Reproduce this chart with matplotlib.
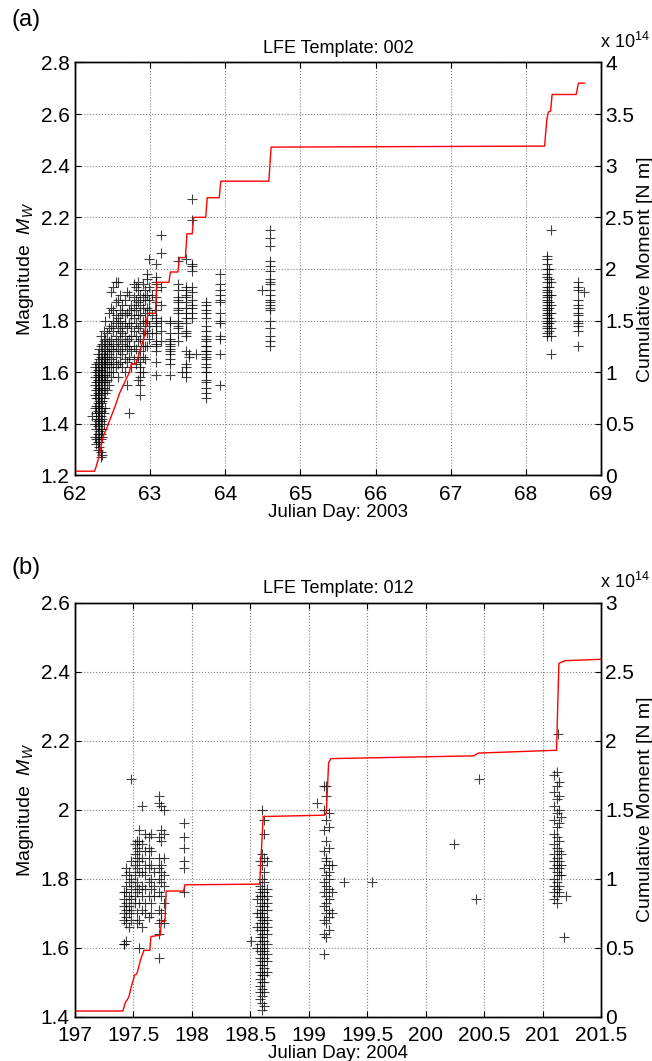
"""
LFE magnitudes and cumulative moment for templates 002 and 012.
"""

import matplotlib
matplotlib.use('Agg')
import matplotlib.pyplot as plt
from matplotlib.ticker import MultipleLocator, FuncFormatter

plt.rcParams['font.family'] = ['Liberation Sans', 'DejaVu Sans']
plt.rcParams['mathtext.fontset'] = 'custom'
plt.rcParams['mathtext.rm'] = 'Liberation Sans'
plt.rcParams['mathtext.it'] = 'Liberation Sans:italic'

# ---- (a) template 002, 2003 ----
# detections grouped in columns of (roughly) equal Julian day
a_col_days = [62.22, 62.26, 62.28, 62.30, 62.32, 62.34, 62.36, 62.38, 62.40, 62.42,
              62.45, 62.48, 62.51, 62.54, 62.57, 62.60, 62.63, 62.66, 62.69, 62.72,
              62.75, 62.78, 62.81, 62.84, 62.87, 62.90, 62.93, 62.96, 62.98, 63.03,
              63.08, 63.14, 63.26, 63.37, 63.43, 63.48, 63.52, 63.56, 63.61, 63.75,
              63.93, 64.49, 64.60, 68.28, 68.31, 68.34, 68.69, 68.78]
a_col_mags = [
    [1.43],
    [1.35, 1.40, 1.46, 1.51, 1.55, 1.58, 1.62],
    [1.32, 1.34, 1.38, 1.42, 1.44, 1.47, 1.50, 1.53, 1.56, 1.60, 1.63],
    [1.30, 1.33, 1.36, 1.39, 1.41, 1.43, 1.45, 1.48, 1.50, 1.52, 1.54, 1.57, 1.59, 1.61, 1.64, 1.67],
    [1.31, 1.33, 1.35, 1.37, 1.40, 1.42, 1.44, 1.46, 1.47, 1.49, 1.51, 1.53, 1.55, 1.56, 1.58, 1.60,
     1.62, 1.65, 1.69],
    [1.27, 1.29, 1.34, 1.36, 1.38, 1.41, 1.43, 1.45, 1.48, 1.50, 1.52, 1.54, 1.57, 1.59, 1.61, 1.63,
     1.66, 1.70, 1.74],
    [1.28, 1.35, 1.38, 1.42, 1.46, 1.49, 1.53, 1.56, 1.58, 1.60, 1.62, 1.64, 1.67, 1.71],
    [1.40, 1.44, 1.50, 1.54, 1.57, 1.60, 1.63, 1.65, 1.68, 1.72, 1.76],
    [1.46, 1.52, 1.56, 1.59, 1.62, 1.64, 1.66, 1.69, 1.73, 1.80],
    [1.53, 1.57, 1.60, 1.63, 1.66, 1.68, 1.71, 1.75],
    [1.55, 1.60, 1.63, 1.67, 1.70, 1.72, 1.77, 1.83],
    [1.58, 1.62, 1.65, 1.69, 1.73, 1.78, 1.85, 1.91],
    [1.60, 1.64, 1.68, 1.71, 1.76, 1.80, 1.84, 1.93],
    [1.62, 1.66, 1.70, 1.74, 1.79, 1.82, 1.87, 1.95],
    [1.58, 1.63, 1.69, 1.72, 1.77, 1.81, 1.88, 1.95],
    [1.64, 1.68, 1.73, 1.76, 1.80, 1.84, 1.90],
    [1.62, 1.67, 1.71, 1.75, 1.78, 1.83, 1.86],
    [1.60, 1.65, 1.70, 1.74, 1.79, 1.82, 1.88],
    [1.55, 1.64, 1.69, 1.72, 1.77, 1.83, 1.91],
    [1.44, 1.66, 1.70, 1.73, 1.79, 1.84, 1.90],
    [1.62, 1.68, 1.74, 1.78, 1.82, 1.86],
    [1.65, 1.70, 1.76, 1.81, 1.85, 1.89, 1.94],
    [1.63, 1.69, 1.74, 1.79, 1.84, 1.88, 1.93],
    [1.57, 1.66, 1.72, 1.77, 1.82, 1.87, 1.92, 1.95],
    [1.51, 1.55, 1.58, 1.60, 1.62, 1.64, 1.68, 1.73, 1.78, 1.82, 1.86, 1.90],
    [1.60, 1.66, 1.70, 1.75, 1.80, 1.85, 1.89, 1.94],
    [1.65, 1.70, 1.76, 1.79, 1.83, 1.88, 1.92],
    [1.70, 1.75, 1.80, 1.85, 1.90, 1.96, 1.98],
    [1.73, 1.78, 1.84, 1.88, 1.93, 2.04],
    [1.75, 1.82, 1.90],
    [2.02, 1.97, 1.95, 1.94, 1.92, 1.89, 1.87, 1.84, 1.81, 1.80, 1.79, 1.78, 1.75, 1.72, 1.71, 1.70,
     1.68, 1.64, 1.59],
    [2.13, 2.06, 1.93, 1.86, 1.80, 1.76, 1.72],
    [1.80, 1.79, 1.75, 1.73, 1.72, 1.71, 1.70, 1.69, 1.68, 1.67, 1.65, 1.63, 1.59],
    [2.03, 1.94, 1.92, 1.89, 1.88, 1.87, 1.85, 1.84, 1.83, 1.80, 1.79, 1.78, 1.77, 1.75, 1.72],
    [1.60],
    [2.04, 1.93, 1.92, 1.90, 1.89, 1.87, 1.85, 1.83, 1.81, 1.79, 1.76, 1.75, 1.74, 1.68, 1.63, 1.62,
     1.60, 1.58],
    [1.67, 1.66],
    [2.27, 2.19, 2.02, 2.01, 1.99, 1.93, 1.91, 1.88, 1.86, 1.85, 1.83, 1.81],
    [1.67],
    [1.87, 1.86, 1.84, 1.83, 1.81, 1.78, 1.76, 1.74, 1.73, 1.72, 1.70, 1.70, 1.68, 1.68, 1.67, 1.66,
     1.65, 1.63, 1.62, 1.60, 1.60, 1.57, 1.56, 1.54, 1.52, 1.50],
    [1.98, 1.94, 1.92, 1.90, 1.88, 1.87, 1.83, 1.80, 1.79, 1.74, 1.73, 1.67, 1.55],
    [1.92],
    [2.15, 2.12, 2.09, 2.03, 2.01, 1.99, 1.96, 1.95, 1.94, 1.92, 1.90, 1.88, 1.87, 1.86, 1.85, 1.84,
     1.80, 1.77, 1.74, 1.72, 1.70],
    [2.05, 2.04, 2.02, 2.00, 1.98, 1.97, 1.95, 1.93, 1.92, 1.91, 1.90, 1.89, 1.88, 1.87, 1.86, 1.85,
     1.84, 1.83, 1.82, 1.81, 1.80, 1.79, 1.78, 1.77, 1.75, 1.74],
    [2.00, 1.96, 1.93, 1.90, 1.87, 1.85, 1.83, 1.81, 1.79, 1.76],
    [2.15, 1.95, 1.90, 1.86, 1.83, 1.80, 1.77, 1.74, 1.67],
    [1.95, 1.93, 1.92, 1.88, 1.86, 1.85, 1.83, 1.82, 1.80, 1.79, 1.78, 1.76, 1.70],
    [1.91],
]

# cumulative moment, units of 1e14 N m
a_cm_days = [62.0, 62.26, 62.28, 62.33, 62.37, 62.42, 62.46, 62.53, 62.59, 62.66,
             62.72, 62.75, 62.81, 62.82, 62.88, 62.92, 62.97, 63.07, 63.09, 63.25,
             63.27, 63.37, 63.39, 63.47, 63.49, 63.56, 63.58, 63.74, 63.76, 63.92,
             63.94, 64.58, 64.61, 68.25, 68.28, 68.30, 68.33, 68.35, 68.67, 68.70, 68.78]
a_cm = [0.04, 0.04, 0.08, 0.21, 0.37, 0.45, 0.53, 0.66, 0.79, 0.90,
        0.99, 1.08, 1.08, 1.10, 1.24, 1.34, 1.57, 1.57, 1.87, 1.87,
        1.97, 1.97, 2.11, 2.11, 2.34, 2.34, 2.50, 2.50, 2.69, 2.69,
        2.85, 2.85, 3.18, 3.19, 3.45, 3.52, 3.53, 3.69, 3.69, 3.80, 3.80]

# ---- (b) template 012, 2004 ----
b_col_days = [197.42, 197.44, 197.46, 197.48, 197.51, 197.53, 197.55, 197.57, 197.60, 197.63,
              197.65, 197.68, 197.72, 197.74, 197.76, 197.93, 198.51, 198.56, 198.58, 198.60,
              198.62, 198.64, 199.07, 199.13, 199.15, 199.17, 199.20, 199.30, 199.54, 200.24,
              200.43, 200.46, 201.10, 201.12, 201.13, 201.14, 201.16, 201.18, 201.20]
b_col_mags = [
    [1.76, 1.74, 1.72, 1.70, 1.68, 1.61, 1.61],
    [1.83, 1.81, 1.78, 1.76, 1.73, 1.71, 1.69, 1.67, 1.62],
    [1.82, 1.79, 1.75, 1.72, 1.70, 1.66],
    [2.09, 1.85, 1.80, 1.77, 1.74, 1.71, 1.68],
    [1.90, 1.87, 1.84, 1.81, 1.78, 1.75, 1.73],
    [1.91, 1.89, 1.86, 1.83, 1.79, 1.76, 1.70, 1.67],
    [1.94, 1.91, 1.88, 1.85, 1.82, 1.77, 1.73, 1.68, 1.60],
    [2.01, 1.90, 1.86, 1.82, 1.78, 1.75, 1.71, 1.66],
    [1.93, 1.88, 1.84, 1.81, 1.77, 1.73, 1.70],
    [1.92, 1.89, 1.86, 1.83, 1.79, 1.75, 1.69],
    [1.93, 1.88, 1.84, 1.80, 1.77, 1.73, 1.70],
    [1.82, 1.78, 1.75],
    [2.04, 2.02, 1.92, 1.86, 1.83, 1.80, 1.76, 1.71, 1.67, 1.64, 1.57],
    [2.01, 1.94, 1.91, 1.84, 1.82, 1.79, 1.75, 1.70, 1.68],
    [2.00, 1.93, 1.86, 1.81, 1.78, 1.73, 1.67],
    [1.96, 1.92, 1.89, 1.85, 1.83, 1.76],
    [1.62],
    [1.74, 1.70, 1.66, 1.60],
    [1.85, 1.78, 1.76, 1.75, 1.72, 1.70, 1.69, 1.67, 1.65, 1.63, 1.61, 1.59, 1.57, 1.55, 1.53, 1.51,
     1.49, 1.47, 1.45],
    [2.00, 1.87, 1.84, 1.80, 1.77, 1.75, 1.73, 1.71, 1.70, 1.68, 1.66, 1.64, 1.63, 1.62, 1.60, 1.58,
     1.56, 1.55, 1.53, 1.52, 1.50, 1.48, 1.46, 1.44, 1.42],
    [1.97, 1.93, 1.86, 1.82, 1.79, 1.76, 1.74, 1.72, 1.69, 1.67, 1.65, 1.62, 1.60, 1.59, 1.57, 1.54,
     1.52, 1.50, 1.47, 1.43],
    [1.85, 1.77, 1.75, 1.73, 1.71, 1.68, 1.66, 1.64, 1.61, 1.58, 1.56, 1.53],
    [2.02],
    [2.07, 2.00, 1.94, 1.88, 1.83, 1.79, 1.76, 1.72, 1.68, 1.64, 1.58],
    [2.07, 2.04, 1.97, 1.91, 1.86, 1.85, 1.81, 1.78, 1.75, 1.73, 1.70, 1.67, 1.63],
    [1.99, 1.95, 1.89, 1.84, 1.82, 1.80, 1.77, 1.74, 1.71, 1.69, 1.65],
    [1.84, 1.76, 1.70],
    [1.79],
    [1.79],
    [1.90],
    [1.74],
    [2.09],
    [2.10, 2.05, 2.01, 1.97, 1.93, 1.90, 1.87, 1.85, 1.83, 1.80, 1.78, 1.76, 1.74],
    [2.11, 2.07, 2.03, 1.99, 1.95, 1.92, 1.89, 1.86, 1.84, 1.82, 1.79, 1.77, 1.75, 1.73],
    [2.22],
    [2.08, 2.04, 2.00, 1.96, 1.91, 1.88, 1.85, 1.83, 1.81, 1.78, 1.76],
    [1.98, 1.87, 1.84, 1.81],
    [1.63],
    [1.75],
]

b_cm_days = [197.0, 197.41, 197.43, 197.46, 197.48, 197.51, 197.53, 197.56, 197.59, 197.64,
             197.65, 197.73, 197.74, 197.77, 197.78, 197.93, 197.94, 198.58, 198.61, 199.13,
             199.15, 199.17, 199.19, 200.41, 200.45, 201.10, 201.12, 201.14, 201.19, 201.5]
b_cm = [0.04, 0.04, 0.10, 0.14, 0.21, 0.30, 0.31, 0.41, 0.48, 0.48,
        0.58, 0.59, 0.69, 0.69, 0.91, 0.91, 0.955, 0.96, 1.45, 1.46,
        1.47, 1.84, 1.87, 1.89, 1.91, 1.93, 1.93, 2.56, 2.58, 2.59]


def flatten(days, cols):
    xs, ys = [], []
    for d, col in zip(days, cols):
        xs += [d] * len(col)
        ys += col
    return xs, ys


def draw_panel(fig, rect, days, cols, cm_days, cm, xlim, xstep, ylim, cmmax,
               title, xlabel, letter, letter_y):
    ax = fig.add_axes(rect)
    xs, ys = flatten(days, cols)
    ax.plot(xs, ys, '+', color='k', ms=6.5, mew=0.8, alpha=0.75)
    ax.set_xlim(xlim)
    ax.set_ylim(ylim)
    ax.xaxis.set_major_locator(MultipleLocator(xstep))
    ax.yaxis.set_major_locator(MultipleLocator(0.2))
    ax.xaxis.set_major_formatter(FuncFormatter(lambda v, p: '%g' % round(v, 3)))
    ax.yaxis.set_major_formatter(FuncFormatter(lambda v, p: '%g' % round(v, 3)))
    ax.grid(True, linestyle=':', color='#808080', linewidth=0.8)
    ax.tick_params(direction='in', top=True, right=False, labelsize=15, length=4)
    ax.tick_params(axis='x', pad=7)
    ax.tick_params(axis='y', pad=4)
    ax.set_title(title, fontsize=13, pad=7)
    ax.set_xlabel(xlabel, fontsize=13.5, labelpad=0)
    ax.set_ylabel('Magnitude  $M_W$', fontsize=14, labelpad=3)

    ax2 = ax.twinx()
    ax2.plot(cm_days, cm, color='red', lw=1.0)
    ax2.set_xlim(xlim)
    ax2.set_ylim(0, cmmax)
    ax2.yaxis.set_major_locator(MultipleLocator(0.5))
    ax2.yaxis.set_major_formatter(FuncFormatter(lambda v, p: '%g' % v))
    ax2.tick_params(direction='in', labelsize=15, length=4, pad=3)
    ax2.set_ylabel('Cumulative Moment [N m]', fontsize=14, labelpad=2)
    ax2.text(0.998, 1.026, r'x 10$^{14}$', transform=ax2.transAxes,
             ha='left', va='bottom', fontsize=13)
    for a in (ax, ax2):
        for s in a.spines.values():
            s.set_linewidth(1.0)

    fig.text(0.018, letter_y, letter, fontsize=17, ha='left', va='center')
    return ax


fig = plt.figure(figsize=(6.52, 10.61), dpi=100)

draw_panel(fig, [0.1150, 0.5520, 0.8067, 0.3891], a_col_days, a_col_mags,
           a_cm_days, a_cm, (62, 69), 1, (1.2, 2.8), 4,
           'LFE Template: 002', 'Julian Day: 2003', '(a)', 1 - 20 / 1061)
draw_panel(fig, [0.1150, 0.0419, 0.8067, 0.3900], b_col_days, b_col_mags,
           b_cm_days, b_cm, (197, 201.5), 0.5, (1.4, 2.6), 3,
           'LFE Template: 012', 'Julian Day: 2004', '(b)', 1 - 568 / 1061)

fig.savefig('out.png', dpi=100)
